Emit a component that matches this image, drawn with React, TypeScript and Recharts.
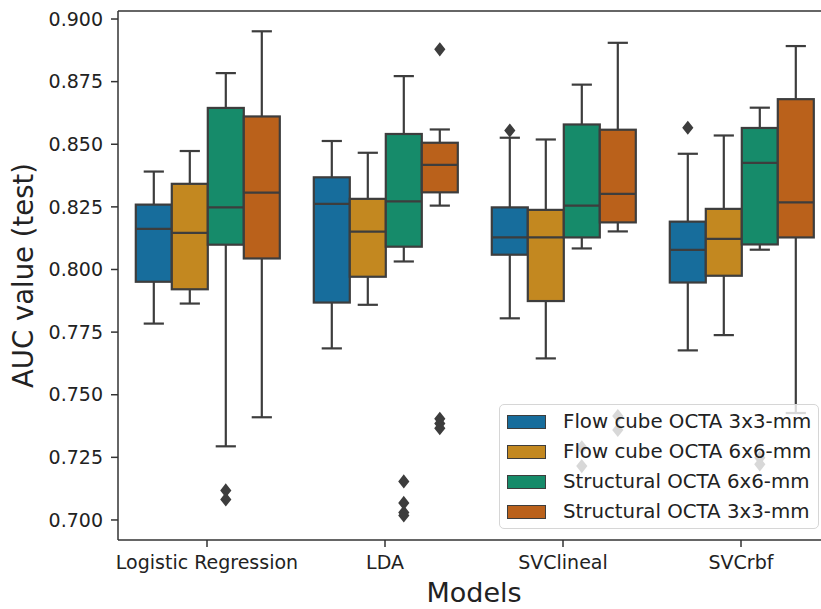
import { ComposedChart, Bar, XAxis, YAxis, Label, ReferenceLine } from "recharts";

const models = ["Logistic Regression", "LDA", "SVClineal", "SVCrbf"];
const hues = [
  "Flow cube OCTA 3x3-mm",
  "Flow cube OCTA 6x6-mm",
  "Structural OCTA 6x6-mm",
  "Structural OCTA 3x3-mm",
];
const colors = ["#176d9c", "#c38820", "#168b6a", "#ba611b"];
const yTicks = [0.7, 0.725, 0.75, 0.775, 0.8, 0.825, 0.85, 0.875, 0.9];
const yDomain = [0.692, 0.9032];

// one row per hue, one column per model
const whiskerLow = [
  [0.7784, 0.7685, 0.7805, 0.7677],
  [0.7864, 0.7859, 0.7645, 0.7738],
  [0.7294, 0.8032, 0.8084, 0.8079],
  [0.741, 0.8255, 0.8152, 0.7427],
];
const quart1 = [
  [0.7951, 0.7868, 0.8059, 0.7948],
  [0.7921, 0.7971, 0.7874, 0.7975],
  [0.8099, 0.8091, 0.8128, 0.81],
  [0.8044, 0.8308, 0.8188, 0.8128],
];
const medians = [
  [0.8162, 0.8262, 0.8128, 0.8078],
  [0.8146, 0.8151, 0.8128, 0.8122],
  [0.8248, 0.8272, 0.8255, 0.8426],
  [0.8307, 0.8418, 0.8302, 0.8268],
];
const quart3 = [
  [0.8259, 0.8368, 0.8248, 0.8191],
  [0.8342, 0.8282, 0.8238, 0.8242],
  [0.8645, 0.8541, 0.8579, 0.8565],
  [0.8611, 0.8506, 0.8558, 0.868],
];
const whiskerHigh = [
  [0.8391, 0.8513, 0.8526, 0.8462],
  [0.8473, 0.8466, 0.8519, 0.8535],
  [0.8784, 0.8772, 0.8738, 0.8646],
  [0.8951, 0.8559, 0.8905, 0.8892],
];
const fliers = [
  [[], [], [0.8555], [0.8566]],
  [[], [], [], []],
  [[0.7118, 0.7082], [0.7154, 0.7068, 0.703, 0.7018], [0.729, 0.7215], [0.7248, 0.7222]],
  [[], [0.8879, 0.7404, 0.7385, 0.7366], [0.7415, 0.7359], []],
];

const rows = models.map((model, i) => ({
  model,
  stats: hues.map((_, h) => ({
    low: whiskerLow[h][i],
    q1: quart1[h][i],
    med: medians[h][i],
    q3: quart3[h][i],
    high: whiskerHigh[h][i],
    out: fliers[h][i],
  })),
}));

const GRAY = "#3d3d3d";
const FONT = "DejaVu Sans";

const BoxShape = (props: any) => {
  const { x, y, width, height, payload, hue } = props;
  const s = payload.stats[hue];
  const top = Math.min(y, y + height);
  const h = Math.abs(height);
  const k = h / (s.q3 - s.q1);
  const py = (v: number) => top + (s.q3 - v) * k;
  const cx = x + width / 2;
  const cap = width / 4;
  const line = { stroke: GRAY, strokeWidth: 2.2 };
  return (
    <g>
      <line x1={cx} x2={cx} y1={py(s.q3)} y2={py(s.high)} {...line} />
      <line x1={cx} x2={cx} y1={py(s.q1)} y2={py(s.low)} {...line} />
      <line x1={cx - cap} x2={cx + cap} y1={py(s.high)} y2={py(s.high)} {...line} strokeLinecap="square" />
      <line x1={cx - cap} x2={cx + cap} y1={py(s.low)} y2={py(s.low)} {...line} strokeLinecap="square" />
      <rect x={x} y={top} width={width} height={h} fill={colors[hue]} {...line} />
      <line x1={x} x2={x + width} y1={py(s.med)} y2={py(s.med)} {...line} />
      {s.out.map((v: number, j: number) => {
        const oy = py(v);
        return (
          <polygon
            key={j}
            points={`${cx},${oy - 5.3} ${cx + 4.2},${oy} ${cx},${oy + 5.3} ${cx - 4.2},${oy}`}
            fill={GRAY}
            stroke={GRAY}
            strokeWidth={2.2}
          />
        );
      })}
    </g>
  );
};

const LegendBox = () => (
  <div
    style={{
      position: "absolute",
      left: 499,
      top: 404,
      width: 320,
      height: 125,
      boxSizing: "border-box",
      border: "1.5px solid #d6d6d6",
      borderRadius: 5,
      background: "rgba(255,255,255,0.8)",
      fontFamily: FONT,
      fontSize: 19.8,
      color: "#222",
    }}
  >
    {hues.map((name, i) => (
      <div key={name} style={{ position: "absolute", left: 0, top: 17 + i * 30, height: 0 }}>
        <div
          style={{
            position: "absolute",
            left: 6.5,
            top: -7,
            width: 39,
            height: 14,
            boxSizing: "border-box",
            background: colors[i],
            border: `1.5px solid ${GRAY}`,
          }}
        />
        <div style={{ position: "absolute", left: 63, top: -12, whiteSpace: "nowrap", lineHeight: "24px" }}>
          {name}
        </div>
      </div>
    ))}
  </div>
);

const axisStroke = { stroke: "#333", strokeWidth: 1.5 };

export default function App() {
  return (
    <div
      style={{
        position: "absolute",
        left: 0,
        top: 0,
        width: 821,
        height: 609,
        overflow: "hidden",
        background: "#fff",
      }}
    >
      <ComposedChart
        width={840}
        height={609}
        data={rows}
        margin={{ top: 11, right: 10, bottom: 29, left: 38 }}
        barCategoryGap="10%"
        barGap={0}
      >
        <XAxis
          dataKey="model"
          height={40}
          tickSize={7}
          tickMargin={9}
          axisLine={axisStroke}
          tickLine={axisStroke}
          tick={{ fontSize: 19, fill: "#222", fontFamily: FONT }}
          interval={0}
        >
          <Label
            content={({ viewBox }: any) => (
              <text
                x={viewBox.x + viewBox.width / 2}
                y={viewBox.y + 61.5}
                textAnchor="middle"
                fontSize={27}
                fontFamily={FONT}
                fill="#222"
              >
                Models
              </text>
            )}
          />
        </XAxis>
        <YAxis
          type="number"
          width={80}
          domain={yDomain}
          ticks={yTicks}
          allowDataOverflow
          tickFormatter={(v: number) => v.toFixed(3)}
          tickSize={7}
          tickMargin={8}
          axisLine={axisStroke}
          tickLine={axisStroke}
          tick={{ fontSize: 19, fill: "#222", fontFamily: FONT }}
        >
          <Label
            content={({ viewBox }: any) => {
              const cy = viewBox.y + viewBox.height / 2;
              return (
                <text
                  x={33}
                  y={cy}
                  transform={`rotate(-90 33 ${cy})`}
                  textAnchor="middle"
                  fontSize={27.5}
                  fontFamily={FONT}
                  fill="#222"
                >
                  AUC value (test)
                </text>
              );
            }}
          />
        </YAxis>
        <ReferenceLine y={yDomain[1]} ifOverflow="visible" stroke="#333" strokeWidth={1.5} />
        {hues.map((name, h) => (
          <Bar
            key={name}
            name={name}
            dataKey={(d: any) => [d.stats[h].q1, d.stats[h].q3]}
            fill={colors[h]}
            isAnimationActive={false}
            shape={(p: any) => <BoxShape {...p} hue={h} />}
          />
        ))}
      </ComposedChart>
      <LegendBox />
    </div>
  );
}
